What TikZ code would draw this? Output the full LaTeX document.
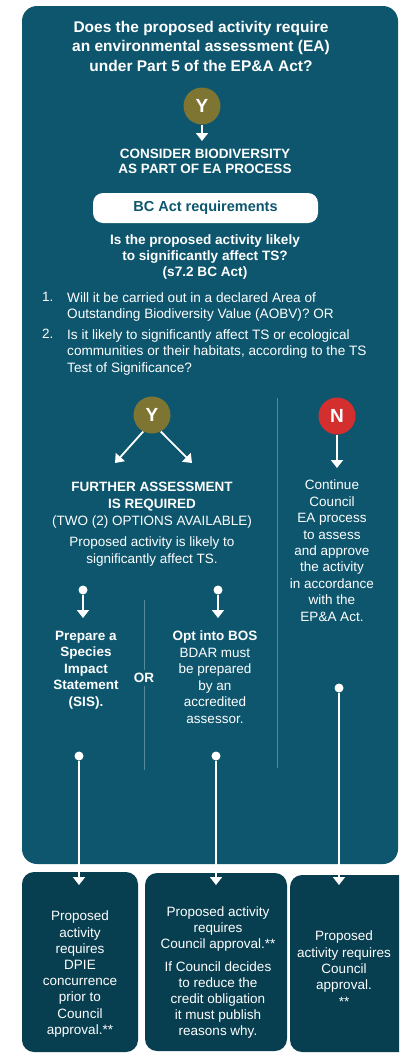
\documentclass[tikz,border=0pt]{standalone}
\usepackage{fontspec}
\setmainfont{Liberation Sans}
\usetikzlibrary{arrows.meta}
\definecolor{panelteal}{HTML}{0D566E}
\definecolor{boxteal}{HTML}{073F50}
\definecolor{yesolive}{HTML}{7F7533}
\definecolor{nored}{HTML}{D32F2F}
\newcommand{\bodysize}{\fontsize{13.5}{16.3}\selectfont}
\tikzstyle{txt}=[text=white, align=center, inner sep=0, font=\bodysize]
\tikzstyle{hdr}=[txt, font=\bfseries\fontsize{13.5}{16.5}\selectfont]
\tikzstyle{yesno}=[circle, inner sep=0, minimum size=37pt, text=white,
                   font=\bfseries\fontsize{19}{19}\selectfont]
\tikzstyle{yes}=[yesno, fill=yesolive]
\tikzstyle{no}=[yesno, fill=nored]
\tikzstyle{arr}=[white, line width=1.8pt, -{Triangle[width=12pt,length=8pt]}]
\tikzstyle{pindot}=[circle, fill=white, inner sep=0, minimum size=9pt]
\tikzstyle{divider}=[white, opacity=0.3, line width=0.6pt]
\tikzstyle{outbox}=[fill=boxteal, rounded corners=12pt]

\begin{document}
\begin{tikzpicture}[x=1pt, y=-1pt]
    \useasboundingbox (0,0) rectangle (399,1055);
    \fill[white] (0,0) rectangle (399,1055);
    \clip (0,0) rectangle (399,1055);
    % main panel
    \fill[panelteal, rounded corners=15pt] (22,6) rectangle (398,864);
    \node[hdr, anchor=north, font=\bfseries\fontsize{15.5}{19.5}\selectfont] (title) at (201,21)
        {Does the proposed activity require\\an environmental assessment (EA)\\under Part 5 of the EP\&A Act?};
    \node[yes] (Y1) at (202,106) {Y};
    \node[hdr, anchor=north, font=\bfseries\fontsize{13.5}{15}\selectfont] (consider) at (205,149)
        {CONSIDER BIODIVERSITY\\AS PART OF EA PROCESS};
    \draw[arr, shorten >=8pt] (Y1) -- (Y1 |- consider.north);
    \fill[white, rounded corners=10pt] (93,193) rectangle (318,223);
    \node[hdr, text=panelteal, font=\bfseries\fontsize{14.5}{16}\selectfont] (bcact) at (205.5,208)
        {BC Act requirements};
    \node[hdr, anchor=north, font=\bfseries\fontsize{13.6}{16}\selectfont] (question) at (205,234)
        {Is the proposed activity likely\\to significantly affect TS?\\(s7.2 BC Act)};
    % list
    \node[txt, anchor=north west] (num1) at (42,292) {1.};
    \node[txt, anchor=north west, align=left, font=\fontsize{13.6}{16.8}\selectfont] (item1) at (67,292)
        {Will it be carried out in a declared Area of\\Outstanding Biodiversity Value (AOBV)? OR};
    \node[txt, anchor=north west] (num2) at (42,329) {2.};
    \node[txt, anchor=north west, align=left, font=\fontsize{13.6}{16.5}\selectfont] (item2) at (67,329)
        {Is it likely to significantly affect TS or ecological\\communities or their habitats, according to the TS\\Test of Significance?};
    % yes / no split
    \node[yes] (Y2) at (152,415) {Y};
    \node[no] (N) at (337,416) {N};
    \coordinate (Yleft) at (115,463);
    \coordinate (Yright) at (192,463);
    \coordinate (Ntip) at (337,468);
    \draw[arr] (Y2.242) -- (Yleft);
    \draw[arr] (Y2.298) -- (Yright);
    \draw[arr] (N) -- (Ntip);
    \draw[divider] (277,398) -- (277,768);
    \node[txt, anchor=north, font=\fontsize{13.5}{17}\selectfont] (further) at (152,482)
        {\textbf{FURTHER ASSESSMENT}\\\textbf{IS REQUIRED}\\(TWO (2) OPTIONS AVAILABLE)\\[4pt]Proposed activity is likely to\\significantly affect TS.};
    \node[txt, anchor=north, font=\fontsize{13.5}{16.4}\selectfont] (continue) at (332,480)
        {Continue\\Council\\EA process\\to assess\\and approve\\the activity\\in accordance\\with the\\EP\&A Act.};
    % two options
    \node[pindot] (pinSIS) at (83,590) {};
    \node[pindot] (pinBOS) at (218,590) {};
    \coordinate (tipSIS) at (83,618);
    \coordinate (tipBOS) at (218,618);
    \draw[arr] (pinSIS) -- (tipSIS);
    \draw[arr] (pinBOS) -- (tipBOS);
    \node[hdr, anchor=north] (sis) at (86,631)
        {Prepare a\\Species\\Impact\\Statement\\(SIS).};
    \node[hdr, inner sep=3pt] (or) at (144,678) {OR};
    \draw[divider] (144,600) -- (or.north);
    \draw[divider] (or.south) -- (144,770);
    \node[txt, anchor=north, font=\fontsize{13.5}{16.5}\selectfont] (bos) at (215,631)
        {\textbf{Opt into BOS}\\BDAR must\\be prepared\\by an\\accredited\\assessor.};
    % outcomes
    \node[pindot] (pinOut1) at (79,756) {};
    \node[pindot] (pinOut2) at (216,756) {};
    \node[pindot] (pinOut3) at (339,688) {};
    \fill[outbox] (22,872) rectangle (138,1052);
    \fill[outbox] (145,873) rectangle (287,1051);
    \fill[outbox] (290,875) rectangle (412,1052);
    \coordinate (tipOut1) at (79,885);
    \coordinate (tipOut2) at (216,885);
    \coordinate (tipOut3) at (339,885);
    \draw[arr] (pinOut1) -- (tipOut1);
    \draw[arr] (pinOut2) -- (tipOut2);
    \draw[arr] (pinOut3) -- (tipOut3);
    \node[txt, anchor=north, font=\fontsize{13.5}{16.2}\selectfont] (out1) at (80,911)
        {Proposed\\activity\\requires\\DPIE\\concurrence\\prior to\\Council\\approval.**};
    \node[txt, anchor=north, font=\fontsize{13.5}{16}\selectfont] (out2) at (218,907)
        {Proposed activity\\requires\\Council approval.**\\[7pt]If Council decides\\to reduce the\\credit obligation\\it must publish\\reasons why.};
    \node[txt, anchor=north, font=\fontsize{13.5}{16.3}\selectfont] (out3) at (344,931)
        {Proposed\\activity requires\\Council\\approval.\\**};
\end{tikzpicture}
\end{document}
